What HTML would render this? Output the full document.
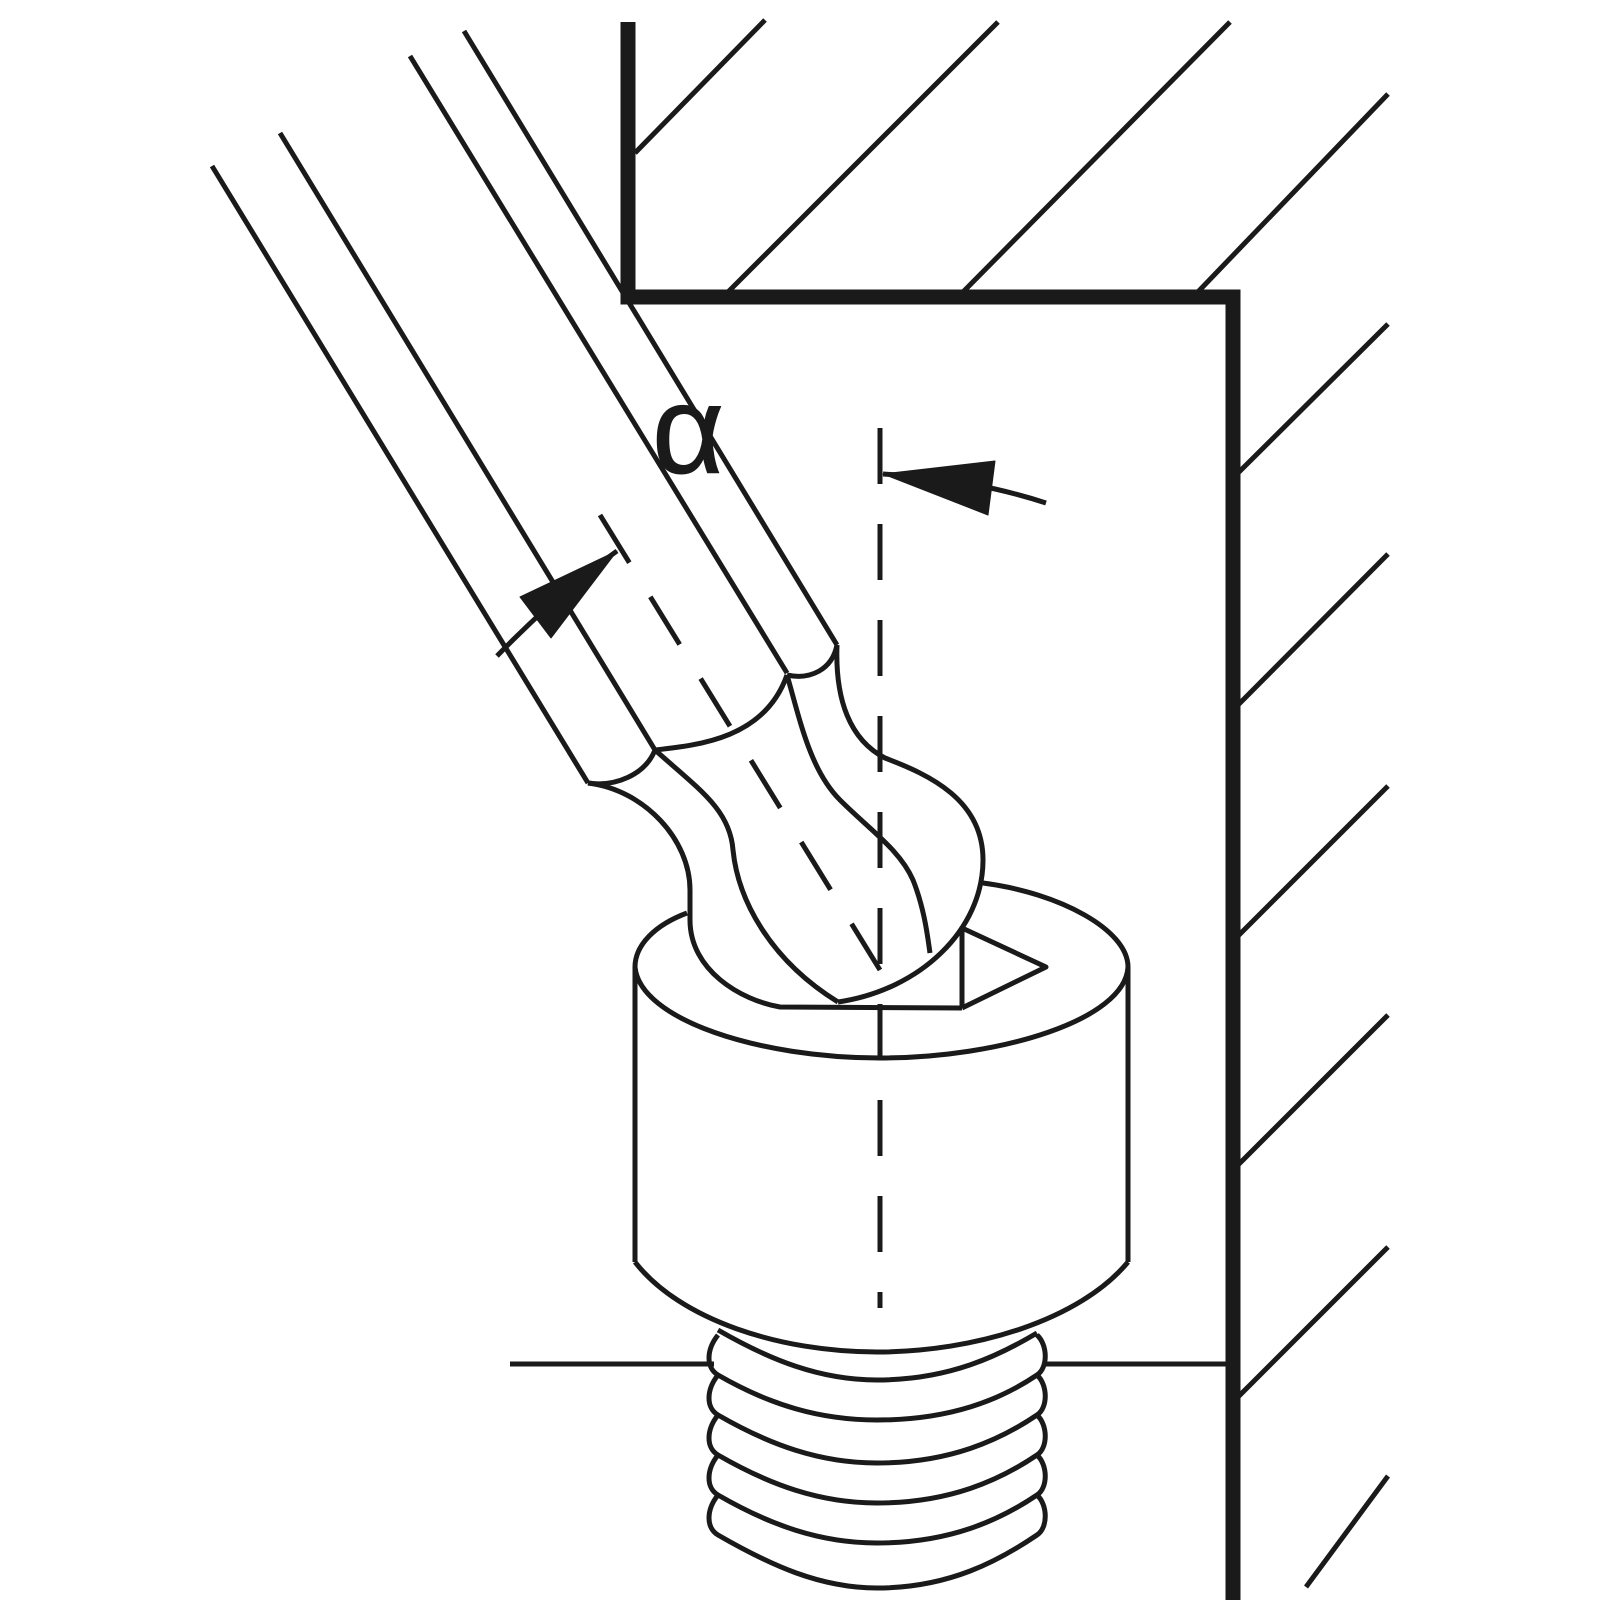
<!DOCTYPE html>
<html><head><meta charset="utf-8"><style>html,body{margin:0;padding:0;background:#fff}svg{display:block}</style></head>
<body>
<svg width="1600" height="1600" viewBox="0 0 1600 1600" xmlns="http://www.w3.org/2000/svg">
<rect width="1600" height="1600" fill="#fff"/>
<g fill="none" stroke="#1a1a1a" stroke-linecap="butt" stroke-linejoin="round">
<path d="M628 22 V297 H1233 V1614" stroke-width="15" stroke-linejoin="miter"/>
<g stroke-width="5">
<line x1="635" y1="153" x2="765" y2="20"/>
<line x1="724" y1="296" x2="998" y2="22"/>
<line x1="959" y1="296" x2="1230" y2="22"/>
<line x1="1194" y1="296" x2="1388" y2="94"/>
<line x1="1237" y1="474" x2="1388" y2="324"/>
<line x1="1237" y1="706" x2="1388" y2="554"/>
<line x1="1237" y1="937" x2="1388" y2="786"/>
<line x1="1237" y1="1166" x2="1388" y2="1015"/>
<line x1="1237" y1="1398" x2="1388" y2="1247"/>
<line x1="1306" y1="1587" x2="1388" y2="1476"/>
</g>
<line x1="510" y1="1364" x2="714" y2="1364" stroke-width="5"/>
<line x1="1043" y1="1364" x2="1228" y2="1364" stroke-width="5"/>
<g stroke-width="5">
<line x1="212" y1="166" x2="588" y2="783"/>
<line x1="280" y1="133" x2="655" y2="750"/>
<line x1="410" y1="56" x2="787" y2="673"/>
<line x1="464" y1="31" x2="837" y2="645"/>
<path d="M588 783 C615 787 645 775 655 750"/>
<path d="M655 750 C700 745 765 738 787 675"/>
<path d="M787 675 C810 680 832 670 837 645"/>
<path d="M837 645 C835 700 850 740 885 758 C930 775 983 800 983 860 C983 930 920 990 838 1002"/>
<path d="M787 675 C800 720 810 770 840 800 C870 830 900 850 913 880 C925 910 928 940 930 953"/>
<path d="M655 750 C700 790 730 810 733 850 C738 900 770 960 838 1002"/>
<path d="M588 783 C645 790 690 840 690 890 L690 920 C690 970 740 1000 780 1007 L962 1008"/>
<path d="M962 1008 V928 L1046 967 L962 1008"/>
<path d="M687 913 C655 925 635 945 635 967"/>
<path d="M983 883 C1060 893 1128 930 1128 967"/>
<path d="M635 967 C640 1020 760 1058 880 1058 C1000 1058 1125 1020 1128 967"/>
<line x1="635" y1="967" x2="635" y2="1262"/>
<line x1="1128" y1="967" x2="1128" y2="1262"/>
<path d="M635 1262 C680 1320 780 1352 877 1352 C975 1352 1080 1320 1128 1262"/>
<path d="M718 1330 C770 1360 820 1380 877 1380 C950 1380 1000 1355 1037 1333"/>
<path d="M718 1335 C706 1350 706 1368 718 1375 C770 1405 820 1420 877 1420 C950 1420 1000 1400 1037 1375 C1048 1368 1048 1345 1037 1335"/>
<path d="M718 1375 C706 1390 706 1408 718 1415 C770 1445 820 1463 877 1463 C950 1463 1000 1440 1037 1415 C1048 1408 1048 1385 1037 1375"/>
<path d="M718 1415 C706 1430 706 1448 718 1455 C770 1485 820 1503 877 1503 C950 1503 1000 1480 1037 1455 C1048 1448 1048 1425 1037 1415"/>
<path d="M718 1455 C706 1470 706 1488 718 1495 C770 1525 820 1543 877 1543 C950 1543 1000 1520 1037 1495 C1048 1488 1048 1465 1037 1455"/>
<path d="M718 1495 C706 1510 706 1528 718 1535 C770 1565 820 1588 877 1588 C950 1588 1000 1560 1037 1535 C1048 1528 1048 1505 1037 1495"/>
<path d="M497 656 C540 612 580 577 617 551"/>
<path d="M1046 503 C1000 488 950 478 883 474"/>
</g>
<polygon points="617,551 520,597 551,638" fill="#1a1a1a"/>
<polygon points="883,474 995,461 988,515" fill="#1a1a1a"/>
<g stroke="#1a1a1a" stroke-width="5" fill="none" stroke-dasharray="56,40">
<line x1="880" y1="428" x2="880" y2="1308"/>
<line x1="600" y1="515" x2="880" y2="970"/>
</g>
<text x="652" y="473" font-family="Liberation Sans, sans-serif" font-size="125" fill="#1a1a1a">α</text>
</svg>
</body></html>
